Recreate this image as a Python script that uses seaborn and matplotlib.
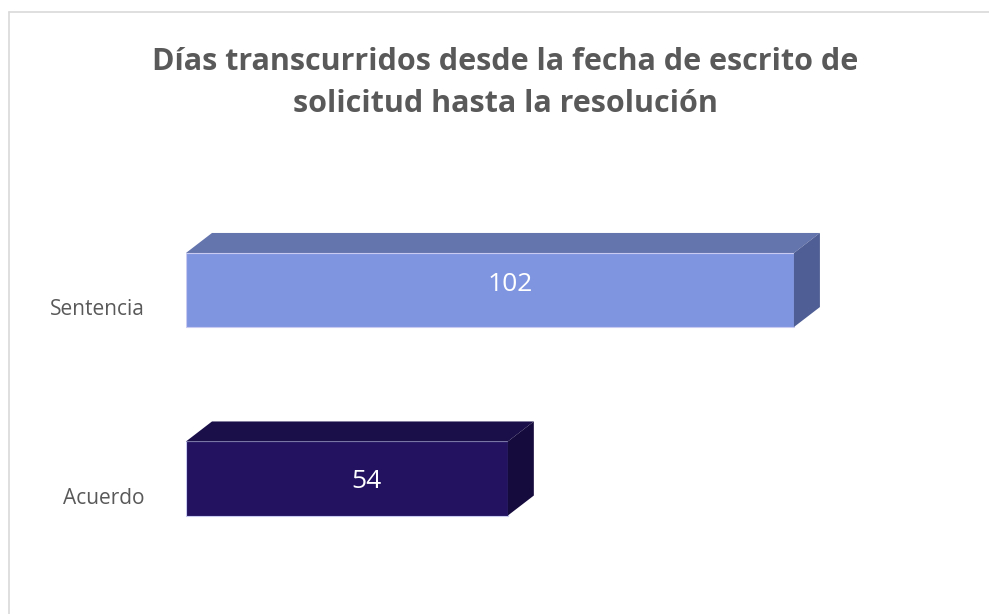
import matplotlib
matplotlib.use("Agg")
import matplotlib.pyplot as plt
import matplotlib.transforms as mtransforms
from matplotlib.patches import Polygon
from matplotlib.lines import Line2D
import seaborn as sns
import pandas as pd

# ── Data ───────────────────────────────────────────────────────
categories = ["Sentencia", "Acuerdo"]
dias = [102, 54]

TITLE = "Días transcurridos desde la fecha de escrito de\nsolicitud hasta la resolución"
FRONT = ["#7F95E0", "#221260"]
TOP = ["#6474AD", "#1B0F4A"]
SIDE = ["#4F5E94", "#160B3D"]

sns.set_theme(style="white")
plt.rcParams["font.family"] = ["Open Sans", "DejaVu Sans"]

W, H = 989, 614
fig = plt.figure(figsize=(W / 100, H / 100), dpi=100)

# axes placed so that 0 days sits at px 186, ~5.96 px per day
px_left, px_right, px_top, px_bot = 186, 900, 160, 600
ax = fig.add_axes([px_left / W, 1 - px_bot / H,
                   (px_right - px_left) / W, (px_bot - px_top) / H])

df = pd.DataFrame({"tipo": categories, "dias": dias})
bar_h = 0.393
sns.barplot(data=df, x="dias", y="tipo", hue="tipo", palette=FRONT, saturation=1,
            width=bar_h, legend=False, ax=ax, edgecolor="#C9CCF0", linewidth=0.8)

px_per_day = 5.96
px_per_cat = 188.5
ax.set_xlim(0, (px_right - px_left) / px_per_day)
ax.set_ylim(0 + (px_bot - 290) / px_per_cat, 0 - (290 - px_top) / px_per_cat)

# 3D depth faces
dx = 26 / px_per_day
dy = 20 / px_per_cat
for i, v in enumerate(dias):
    y0 = i - bar_h / 2  # top edge of front face (inverted axis)
    y1 = i + bar_h / 2
    top = Polygon([(0, y0), (dx, y0 - dy), (v + dx, y0 - dy), (v, y0)],
                  closed=True, facecolor=TOP[i], edgecolor="none", zorder=1)
    side = Polygon([(v, y0), (v + dx, y0 - dy), (v + dx, y1 - dy), (v, y1)],
                   closed=True, facecolor=SIDE[i], edgecolor="none", zorder=1)
    ax.add_patch(top)
    ax.add_patch(side)

# value labels, roughly centred on the box
label_off = [-0.03, 0.016]
for i, v in enumerate(dias):
    ax.text((v + dx) / 2 + 1.15, i + label_off[i], str(v), ha="center", va="center",
            color="white", fontsize=19)

for s in ax.spines.values():
    s.set_visible(False)
ax.set_xticks([])
ax.set_xlabel("")
ax.set_ylabel("")
ax.tick_params(axis="y", length=0, labelsize=15, labelcolor="#595959", pad=30)
offset = mtransforms.ScaledTranslation(0, -17 / 100, fig.dpi_scale_trans)
for lbl in ax.get_yticklabels():
    lbl.set_transform(lbl.get_transform() + offset)

# va="baseline" pins the last line's baseline
fig.text(505 / W, 1 - 112 / H, TITLE, ha="center", va="baseline",
         fontsize=22, fontweight="bold", color="#595959", linespacing=1.52)

# chart frame (only left and top edges visible in the crop)
fig.add_artist(Line2D([8.5 / W, 8.5 / W], [0, 1 - 11.5 / H],
                      transform=fig.transFigure, color="#D9D9D9", linewidth=1.2))
fig.add_artist(Line2D([8.5 / W, 1], [1 - 11.5 / H, 1 - 11.5 / H],
                      transform=fig.transFigure, color="#D9D9D9", linewidth=1.2))

fig.savefig("out.png", dpi=100, facecolor="white")
